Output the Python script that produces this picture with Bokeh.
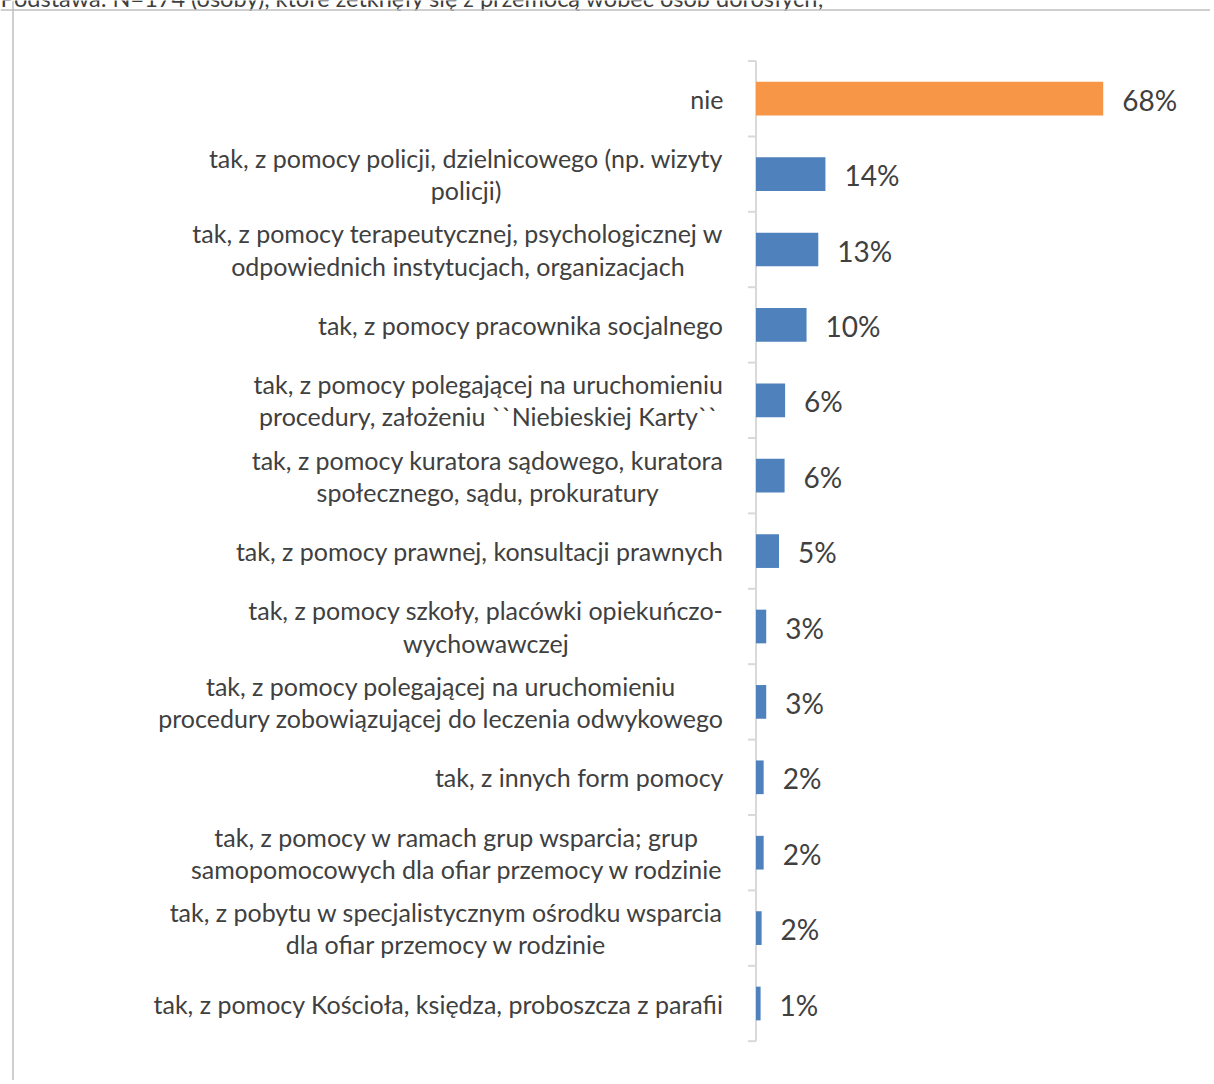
from bokeh.plotting import figure
from bokeh.models import Range1d, ColumnDataSource, Span
from bokeh.embed import file_html
from bokeh.resources import INLINE
from bokeh.core.properties import value

# ---------------- data ----------------
header = "Podstawa: N=174 (osoby), które zetknęły się z przemocą wobec osób dorosłych;"
categories = [
    "nie",
    "tak, z pomocy policji, dzielnicowego (np. wizyty\npolicji)",
    "tak, z pomocy terapeutycznej, psychologicznej w\nodpowiednich instytucjach, organizacjach",
    "tak, z pomocy pracownika socjalnego",
    "tak, z pomocy polegającej na uruchomieniu\nprocedury, założeniu ``Niebieskiej Karty``",
    "tak, z pomocy kuratora sądowego, kuratora\nspołecznego, sądu, prokuratury",
    "tak, z pomocy prawnej, konsultacji prawnych",
    "tak, z pomocy szkoły, placówki opiekuńczo-\nwychowawczej",
    "tak, z pomocy polegającej na uruchomieniu\nprocedury zobowiązującej do leczenia odwykowego",
    "tak, z innych form pomocy",
    "tak, z pomocy w ramach grup wsparcia; grup\nsamopomocowych dla ofiar przemocy w rodzinie",
    "tak, z pobytu w specjalistycznym ośrodku wsparcia\ndla ofiar przemocy w rodzinie",
    "tak, z pomocy Kościoła, księdza, proboszcza z parafii",
]
values = [68.0, 13.6, 12.2, 9.9, 5.7, 5.6, 4.5, 2.0, 2.0, 1.5, 1.5, 1.1, 0.9]
value_labels = ["68%", "14%", "13%", "10%", "6%", "6%", "5%", "3%", "3%", "2%", "2%", "2%", "1%"]
highlighted = ["nie"]

# ---------------- layout / style ----------------
FIG_W, FIG_H = 1210, 1080
AXIS_PX = 755.5          # axis line distance from canvas left (px)
PX_PER_UNIT = 5.106      # px per percentage point
ROW_PX = 75.4            # px per category row
FIRST_ROW_PX = 98.2      # centre of first row from canvas top (px)
BORDER_LEFT_PX, BORDER_TOP_PX = 12.5, 9.5
HEADER_BASELINE_PX = -3
LABEL_GAP_PX = 32.5
TICK_PX = 8
ORANGE, BLUE = "#F79646", "#4F81BD"
TEXT_COLOR = "#404040"
AXIS_COLOR = "#d9d9d9"
BORDER_COLOR = "#bfbfbf"
FONT = "Lato"

x_start = -AXIS_PX / PX_PER_UNIT
x_end = x_start + FIG_W / PX_PER_UNIT
y_top = -FIRST_ROW_PX / ROW_PX
y_bottom = y_top + FIG_H / ROW_PX

n = len(categories)
ypos = list(range(n))
colors = [ORANGE if c in highlighted else BLUE for c in categories]

src = ColumnDataSource(dict(y=ypos, cat=categories, val=values, lab=value_labels, color=colors,
                            lx=[-LABEL_GAP_PX / PX_PER_UNIT] * n))

p = figure(width=FIG_W, height=FIG_H,
           x_range=Range1d(x_start, x_end), y_range=Range1d(y_bottom, y_top),
           x_axis_type=None, y_axis_type=None,
           output_backend="svg", toolbar_location=None,
           min_border_left=0, min_border_top=0, min_border_right=0, min_border_bottom=0,
           outline_line_color=None, background_fill_color="white", border_fill_color="white")
p.grid.visible = False

# chart-area border (left and top)
p.add_layout(Span(location=x_start + BORDER_LEFT_PX / PX_PER_UNIT, dimension="height",
                  line_color=BORDER_COLOR, line_width=1.5))
p.add_layout(Span(location=y_top + BORDER_TOP_PX / ROW_PX, dimension="width",
                  line_color=BORDER_COLOR, line_width=1.5))

# header text (cut off at the top of the page, as in the source)
p.text(x=[x_start], y=[y_top + HEADER_BASELINE_PX / ROW_PX], text=[header],
       text_align="left", text_baseline="alphabetic",
       text_font=value(FONT), text_font_size="23.5px", text_color=TEXT_COLOR)

# category axis line and boundary ticks
bounds = [i - 0.5 for i in range(n + 1)]
p.segment(x0=[0], y0=[bounds[0]], x1=[0], y1=[bounds[-1]], line_color=AXIS_COLOR, line_width=2)
p.segment(x0=[-TICK_PX / PX_PER_UNIT] * len(bounds), y0=bounds, x1=[0] * len(bounds), y1=bounds,
          line_color=AXIS_COLOR, line_width=2)

# bars
p.hbar(y="y", left=0, right="val", height=0.447, fill_color="color", line_color=None, source=src)

# value labels
p.text(x="val", y="y", text="lab", source=src, x_offset=19, y_offset=1,
       text_align="left", text_baseline="middle",
       text_font=value(FONT), text_font_size="28px", text_color=TEXT_COLOR)

# category labels
p.text(x="lx", y="y", text="cat", source=src, anchor="center_right",
       text_align="center", text_baseline="middle", text_line_height=1.07,
       text_font=value(FONT), text_font_size="25px", text_color=TEXT_COLOR)

open("out.html", "w").write(file_html(p, INLINE))
